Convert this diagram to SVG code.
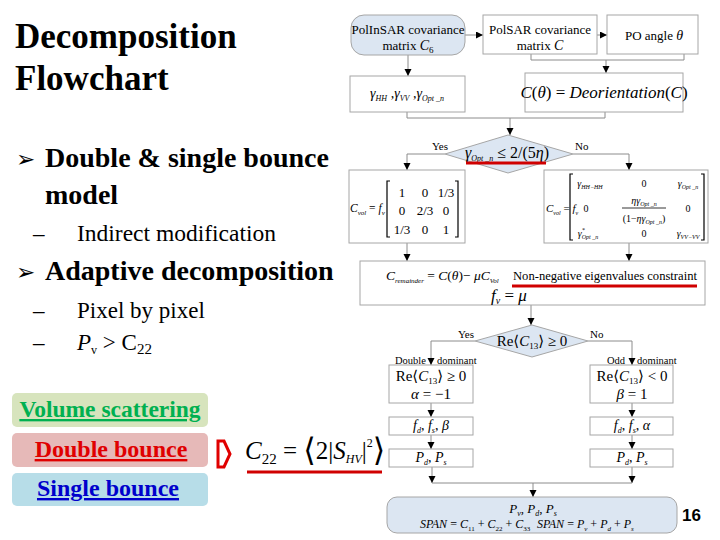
<svg xmlns="http://www.w3.org/2000/svg" width="720" height="540" viewBox="0 0 720 540">
<style>
.t{font-family:'Liberation Serif','Times New Roman',Times,'Noto Serif','DejaVu Serif',serif;fill:#000}
.i{font-style:italic}
.box{fill:#fff;stroke:#a6a6a6;stroke-width:1}
.blu{fill:#dce6f2;stroke:#a6a6a6;stroke-width:1}
.ln{fill:none;stroke:#8c8c8c;stroke-width:1}
.ar{marker-end:url(#ah)}
.red{stroke:#d00000;stroke-width:3;fill:none}
</style>
<defs>
<marker id="ah" markerUnits="userSpaceOnUse" markerWidth="8" markerHeight="8" refX="7" refY="3.5" orient="auto">
<path d="M0,0 L7,3.5 L0,7 z" fill="#000"/>
</marker>
</defs>
<rect width="720" height="540" fill="#fff"/>

<g id="slide-text" font-family="Liberation Serif, Times New Roman, serif">
<text class="t" x="15" y="48" font-size="35" font-weight="bold">Decomposition</text>
<text class="t" x="15" y="90" font-size="35" font-weight="bold">Flowchart</text>
<text x="16" y="167" font-family="DejaVu Sans,sans-serif" font-size="23">➢</text>
<text class="t" x="45" y="167" font-size="28" font-weight="bold">Double &amp; single bounce</text>
<text class="t" x="45" y="204" font-size="28" font-weight="bold">model</text>
<text class="t" x="33" y="241" font-size="23">–</text>
<text class="t" x="77" y="241" font-size="23.5">Indirect modification</text>
<text x="16" y="280" font-family="DejaVu Sans,sans-serif" font-size="23">➢</text>
<text class="t" x="45" y="280" font-size="28" font-weight="bold">Adaptive decomposition</text>
<text class="t" x="33" y="318" font-size="23">–</text>
<text class="t" x="77" y="318" font-size="23">Pixel by pixel</text>
<text class="t" x="33" y="350" font-size="23">–</text>
<text class="t" x="77" y="350" font-size="23"><tspan class="i">P</tspan><tspan font-size="12" dy="4">v</tspan><tspan dy="-4"> &gt; C</tspan><tspan font-size="15" dy="4">22</tspan></text>
</g>

<g id="legend-volume">
<rect x="12" y="393" width="196" height="34" rx="5" fill="#d7e4bd"/>
<text class="t" x="110" y="417" font-size="23.5" font-weight="bold" style="fill:#00b050" text-decoration="underline" text-anchor="middle">Volume scattering</text>
</g>
<g id="legend-double">
<rect x="12" y="433" width="196" height="34" rx="5" fill="#e6b9b8"/>
<text class="t" x="111" y="457" font-size="24" font-weight="bold" style="fill:#e00000" text-decoration="underline" text-anchor="middle">Double bounce</text>
</g>
<g id="legend-single">
<rect x="12" y="473" width="196" height="33" rx="5" fill="#b7dde8"/>
<text class="t" x="108" y="496" font-size="24" font-weight="bold" style="fill:#0000cc" text-decoration="underline" text-anchor="middle">Single bounce</text>
</g>
<g id="c22-note">
<path d="M218,441 H224 L230,454 L224,467 H218 Z" fill="#fff" stroke="#e00000" stroke-width="3"/>
<text class="t" x="245" y="459" font-size="25"><tspan class="i">C</tspan><tspan font-size="15" dy="5">22</tspan><tspan dy="-5"> = </tspan><tspan font-size="32" dy="2">⟨</tspan><tspan dy="-2">2|</tspan><tspan class="i">S</tspan><tspan class="i" font-size="12" dy="4">HV</tspan><tspan dy="-4">|</tspan><tspan font-size="12" dy="-12">2</tspan><tspan font-size="32" dy="14">⟩</tspan></text>
<line x1="247" y1="472" x2="382" y2="472" class="red"/>
</g>

<g id="connectors">
<line class="ln ar" x1="465" y1="35" x2="483" y2="35"/>
<line class="ln ar" x1="597" y1="35" x2="607" y2="35"/>
<path class="ln" d="M531,54 V60 H684 V54"/>
<line class="ln ar" x1="606" y1="60" x2="606" y2="73"/>
<line class="ln ar" x1="408" y1="55" x2="408" y2="76"/>
<path class="ln" d="M407,112 V118 H605 V112"/>
<line class="ln ar" x1="510" y1="118" x2="510" y2="135"/>
<path class="ln ar" d="M445,154 H407 V170"/>
<path class="ln ar" d="M573,154 H629 V170"/>
<line class="ln ar" x1="407" y1="243" x2="407" y2="261"/>
<line class="ln ar" x1="629" y1="243" x2="629" y2="261"/>
<line class="ln ar" x1="531" y1="305" x2="531" y2="325"/>
<path class="ln ar" d="M475,341 H431 V365"/>
<path class="ln ar" d="M588,341 H632 V365"/>
<line class="ln ar" x1="431" y1="403" x2="431" y2="417"/>
<line class="ln ar" x1="431" y1="435" x2="431" y2="449"/>
<line class="ln ar" x1="632" y1="403" x2="632" y2="417"/>
<line class="ln ar" x1="632" y1="435" x2="632" y2="449"/>
<line class="ln ar" x1="432" y1="467" x2="432" y2="483"/>
<line class="ln ar" x1="632" y1="467" x2="632" y2="483"/>
<line class="ln" x1="432" y1="483" x2="632" y2="483"/>
<line class="ln ar" x1="533" y1="483" x2="533" y2="497"/>
</g>

<g id="n-polinsar">
<rect class="blu" x="351" y="15" width="114" height="40" rx="13"/>
<text class="t" x="408" y="34" font-size="13" text-anchor="middle">PolInSAR covariance</text>
<text class="t" x="408" y="50" font-size="13" text-anchor="middle">matrix  <tspan class="i" font-size="14">C</tspan><tspan font-size="9" dy="3">6</tspan></text>
</g>
<g id="n-polsar">
<rect class="box" x="483" y="15" width="114" height="39"/>
<text class="t" x="540" y="34" font-size="13" text-anchor="middle">PolSAR covariance</text>
<text class="t" x="540" y="50" font-size="13" text-anchor="middle">matrix  <tspan class="i" font-size="14">C</tspan></text>
</g>
<g id="n-po">
<rect class="box" x="607" y="15" width="91" height="39"/>
<text class="t" x="654" y="40" font-size="13" text-anchor="middle">PO angle  <tspan class="i" font-size="14">θ</tspan></text>
</g>
<g id="n-gamma">
<rect class="box" x="350" y="76" width="115" height="36"/>
<text class="t i" x="407" y="98" font-size="14" text-anchor="middle">γ<tspan font-size="8" dy="3">HH</tspan><tspan dy="-3"> ,γ</tspan><tspan font-size="8" dy="3">VV</tspan><tspan dy="-3"> ,γ</tspan><tspan font-size="8" dy="3">Opt _n</tspan></text>
</g>
<g id="n-deorient">
<rect class="box" x="525" y="73" width="158" height="39"/>
<text class="t i" x="604" y="98" font-size="17" text-anchor="middle">C<tspan font-style="normal">(</tspan>θ<tspan font-style="normal">) = </tspan>Deorientation<tspan font-style="normal">(</tspan>C<tspan font-style="normal">)</tspan></text>
</g>
<g id="n-diamond1">
<polygon class="blu" points="508,135 573,154 508,173 445,154"/>
<text class="t" x="432" y="150" font-size="11">Yes</text>
<text class="t" x="575" y="150" font-size="11">No</text>
<text class="t" x="507" y="158" font-size="16" text-anchor="middle"><tspan class="i">γ</tspan><tspan class="i" font-size="8" dy="3">Opt _n</tspan><tspan dy="-3"> ≤ 2/(5</tspan><tspan class="i">η</tspan>)</text>
<line x1="466" y1="163" x2="546" y2="163" class="red"/>
</g>
<g id="n-cvol1">
<rect class="box" x="349" y="170" width="116" height="73"/>
<text class="t" x="350" y="212" font-size="11.5"><tspan class="i">C</tspan><tspan class="i" font-size="7" dy="3">vol</tspan><tspan dy="-3"> = </tspan><tspan class="i">f</tspan><tspan class="i" font-size="7" dy="3">v</tspan></text>
<path d="M390,181 h-3 v56 h3 M455,181 h3 v56 h-3" fill="none" stroke="#000" stroke-width="1.2"/>
<g class="t" font-size="13" text-anchor="middle">
<text x="402" y="197">1</text><text x="425" y="197">0</text><text x="446" y="197">1/3</text>
<text x="402" y="215">0</text><text x="425" y="215">2/3</text><text x="446" y="215">0</text>
<text x="402" y="234">1/3</text><text x="425" y="234">0</text><text x="446" y="234">1</text>
</g>
</g>
<g id="n-cvol2">
<rect class="box" x="544" y="170" width="164" height="73"/>
<text class="t" x="546" y="212" font-size="11"><tspan class="i">C</tspan><tspan class="i" font-size="6" dy="3">vol</tspan><tspan dy="-3"> = </tspan><tspan class="i">f</tspan><tspan class="i" font-size="6" dy="3">v</tspan></text>
<path d="M573,174 h-3 v66 h3 M701,174 h3 v66 h-3" fill="none" stroke="#000" stroke-width="1.2"/>
<g class="t" font-size="10" text-anchor="middle">
<text x="590" y="187" class="i">γ<tspan font-size="6" dy="2">HH−HH</tspan></text>
<text x="644" y="187">0</text>
<text x="688" y="187" class="i">γ<tspan font-size="6" dy="2">Opt _n</tspan></text>
<text x="586" y="212">0</text>
<text x="644" y="204" class="i">ηγ<tspan font-size="6" dy="2">Opt _n</tspan></text>
<line x1="622" y1="208" x2="666" y2="208" stroke="#000" stroke-width="0.8"/>
<text x="644" y="222">(1−<tspan class="i">ηγ</tspan><tspan class="i" font-size="6" dy="2">Opt _n</tspan><tspan dy="-2">)</tspan></text>
<text x="688" y="212">0</text>
<text x="588" y="237" class="i">γ<tspan font-size="6" dy="-5">*</tspan><tspan font-size="6" dy="7" dx="-3">Opt _n</tspan></text>
<text x="644" y="237">0</text>
<text x="688" y="237" class="i">γ<tspan font-size="6" dy="2">VV−VV</tspan></text>
</g>
</g>
<g id="n-remainder">
<rect class="box" x="360" y="261" width="345" height="44"/>
<text class="t" x="386" y="280" font-size="13.5"><tspan class="i">C</tspan><tspan class="i" font-size="7" dy="3">remainder</tspan><tspan dy="-3"> = </tspan><tspan class="i">C</tspan>(<tspan class="i">θ</tspan>)− <tspan class="i">μC</tspan><tspan class="i" font-size="7" dy="3">Vol</tspan></text>
<text class="t" x="513" y="280" font-size="12.6">Non-negative eigenvalues constraint</text>
<line x1="512" y1="286" x2="697" y2="286" class="red"/>
<text class="t" x="509" y="301" font-size="17" text-anchor="middle"><tspan class="i">f</tspan><tspan class="i" font-size="10" dy="3">v</tspan><tspan dy="-3"> = </tspan><tspan class="i">μ</tspan></text>
</g>
<g id="n-diamond2">
<polygon class="blu" points="532,325 588,341 532,357 475,341"/>
<text class="t" x="458" y="338" font-size="11">Yes</text>
<text class="t" x="590" y="338" font-size="11">No</text>
<text class="t" x="532" y="346" font-size="15" text-anchor="middle">Re⟨<tspan class="i">C</tspan><tspan font-size="9" dy="3">13</tspan><tspan dy="-3">⟩ ≥ 0</tspan></text>
</g>
<g id="n-double">
<text class="t" x="395" y="364" font-size="10.5">Double</text>
<text class="t" x="437" y="364" font-size="10.5">dominant</text>
<rect class="box" x="389" y="365" width="84" height="38"/>
<text class="t" x="431" y="381" font-size="15" text-anchor="middle">Re⟨<tspan class="i">C</tspan><tspan font-size="9" dy="3">13</tspan><tspan dy="-3">⟩ ≥ 0</tspan></text>
<text class="t" x="431" y="399" font-size="15" text-anchor="middle"><tspan class="i">α</tspan> = −1</text>
</g>
<g id="n-odd">
<text class="t" x="607" y="364" font-size="10.5">Odd</text>
<text class="t" x="637" y="364" font-size="10.5">dominant</text>
<rect class="box" x="590" y="365" width="83" height="38"/>
<text class="t" x="632" y="381" font-size="15" text-anchor="middle">Re⟨<tspan class="i">C</tspan><tspan font-size="9" dy="3">13</tspan><tspan dy="-3">⟩ &lt; 0</tspan></text>
<text class="t" x="632" y="399" font-size="15" text-anchor="middle"><tspan class="i">β</tspan> = 1</text>
</g>
<g id="n-fd-left">
<rect class="box" x="389" y="417" width="84" height="18"/>
<text class="t i" x="431" y="430" font-size="14" text-anchor="middle">f<tspan font-size="8" dy="3">d</tspan><tspan dy="-3" font-style="normal">, </tspan>f<tspan font-size="8" dy="3">s</tspan><tspan dy="-3" font-style="normal">, </tspan>β</text>
</g>
<g id="n-fd-right">
<rect class="box" x="590" y="417" width="83" height="18"/>
<text class="t i" x="632" y="430" font-size="14" text-anchor="middle">f<tspan font-size="8" dy="3">d</tspan><tspan dy="-3" font-style="normal">, </tspan>f<tspan font-size="8" dy="3">s</tspan><tspan dy="-3" font-style="normal">, </tspan>α</text>
</g>
<g id="n-p-left">
<rect class="box" x="389" y="449" width="84" height="18"/>
<text class="t i" x="431" y="462" font-size="14" text-anchor="middle">P<tspan font-size="8" dy="3">d</tspan><tspan dy="-3" font-style="normal">, </tspan>P<tspan font-size="8" dy="3">s</tspan></text>
</g>
<g id="n-p-right">
<rect class="box" x="590" y="449" width="83" height="18"/>
<text class="t i" x="632" y="462" font-size="14" text-anchor="middle">P<tspan font-size="8" dy="3">d</tspan><tspan dy="-3" font-style="normal">, </tspan>P<tspan font-size="8" dy="3">s</tspan></text>
</g>
<g id="n-final">
<rect class="blu" x="387" y="497" width="290" height="36" rx="10"/>
<text class="t i" x="533" y="513" font-size="13" text-anchor="middle">P<tspan font-size="8" dy="3">v</tspan><tspan dy="-3" font-style="normal">, </tspan>P<tspan font-size="8" dy="3">d</tspan><tspan dy="-3" font-style="normal">, </tspan>P<tspan font-size="8" dy="3">s</tspan></text>
<text class="t i" x="420" y="528" font-size="12">SPAN<tspan font-style="normal"> = </tspan>C<tspan font-size="7" dy="3" font-style="normal">11</tspan><tspan dy="-3" font-style="normal"> + </tspan>C<tspan font-size="7" dy="3" font-style="normal">22</tspan><tspan dy="-3" font-style="normal"> + </tspan>C<tspan font-size="7" dy="3" font-style="normal">33</tspan></text>
<text class="t i" x="537" y="528" font-size="12">SPAN<tspan font-style="normal"> = </tspan>P<tspan font-size="7" dy="3">v</tspan><tspan dy="-3" font-style="normal"> + </tspan>P<tspan font-size="7" dy="3">d</tspan><tspan dy="-3" font-style="normal"> + </tspan>P<tspan font-size="7" dy="3">s</tspan></text>
</g>
<text x="682" y="521" font-family="Liberation Sans,Arial,sans-serif" font-size="17" font-weight="bold">16</text>
</svg>
